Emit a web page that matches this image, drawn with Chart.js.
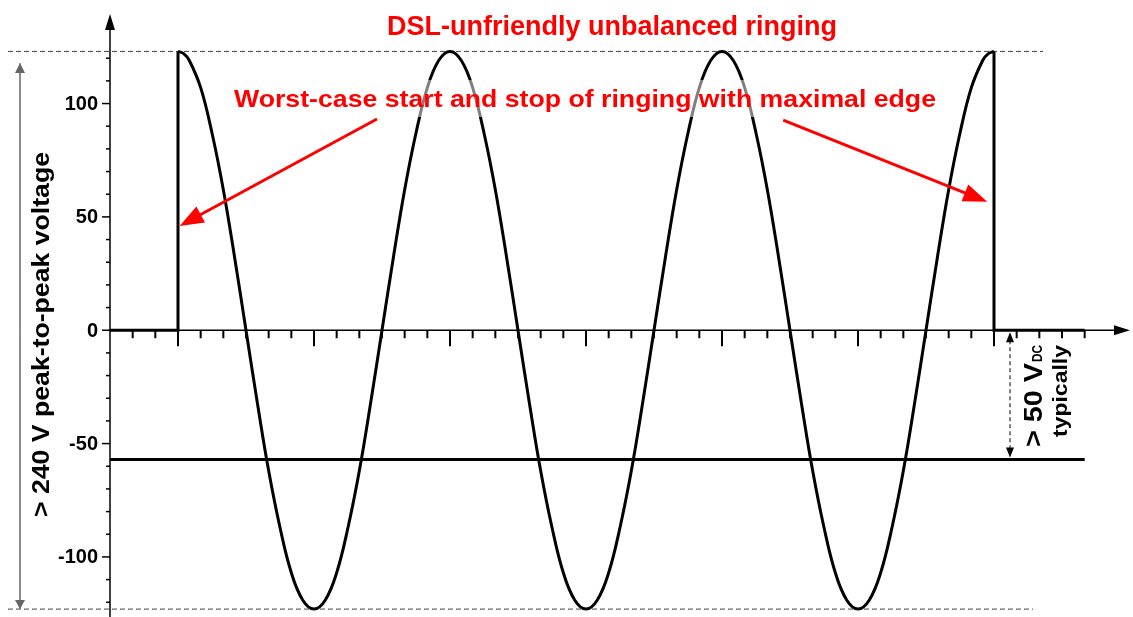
<!DOCTYPE html>
<html>
<head>
<meta charset="utf-8">
<script src="https://cdn.jsdelivr.net/npm/chart.js@4.4.1/dist/chart.umd.min.js"></script>
<style>
  body { margin: 0; background: #fff; }
  canvas { display: block; }
</style>
</head>
<body>
<canvas id="ringChart" width="1133" height="617"></canvas>
<script>
/*--------------------------------------------------------------------------------
----- DATA (x in tick units, y in volts)
--------------------------------------------------------------------------------*/

// line held at 0 V before the ringing starts
const leadX = [0, 3, 3];
const leadV = [0, 0, 123];

// the ringing itself, one point per half tick (a bit denser at both edges)
const ringX = [3, 3.25, 3.5, 4, 4.5, 5, 5.5, 6, 6.5, 7, 7.5, 8, 8.5, 9, 9.5, 10, 10.5, 11, 11.5,
               12, 12.5, 13, 13.5, 14, 14.5, 15, 15.5, 16, 16.5, 17, 17.5, 18, 18.5, 19, 19.5,
               20, 20.5, 21, 21.5, 22, 22.5, 23, 23.5, 24, 24.5, 25, 25.5, 26, 26.5, 27, 27.5,
               28, 28.5, 29, 29.5, 30, 30.5, 31, 31.5, 32, 32.5, 33, 33.5, 34, 34.5, 35, 35.5,
               36, 36.5, 37, 37.5, 38, 38.5, 38.75, 39];
const ringV = [123, 122, 119, 107, 87, 62, 32, 0, -32, -62, -87, -107, -119, -123, -119, -107, -87, -62, -32,
               0, 32, 62, 87, 107, 119, 123, 119, 107, 87, 62, 32, 0, -32, -62, -87,
               -107, -119, -123, -119, -107, -87, -62, -32, 0, 32, 62, 87, 107, 119, 123, 119,
               107, 87, 62, 32, 0, -32, -62, -87, -107, -119, -123, -119, -107, -87, -62, -32,
               0, 32, 62, 87, 107, 119, 122, 123];

// back to 0 V after the ringing stops
const tailX = [39, 39, 43];
const tailV = [123, 0, 0];

// DC level of the line
const dcX = [0, 43];
const dcV = [-57, -57];

// extremes of the ringing (dashed guides)
const peakV = 123;
const troughV = -123;

// axes
const yTickLabels = [100, 50, 0, -50, -100];
const yMinorStep = 10;
const xMajorTicks = [3, 9, 15, 21, 27, 33, 39];
const xLastTick = 43;

// texts
const titleText = 'DSL-unfriendly unbalanced ringing';
const noteText = 'Worst-case start and stop of ringing with maximal edge';
const yAxisText = '> 240 V peak-to-peak voltage';
const dcText = '> 50 V';
const dcSub = 'DC';
const dcNote = 'typically';

// red arrows of the note, in data units: [fromX, fromY, toX, toY]
const noteArrows = [[11.78, 93.2, 3.07, 46], [29.7, 92.7, 38.7, 56.7]];


/*--------------------------------------------------------------------------------
----- HELPERS
--------------------------------------------------------------------------------*/

function pts(xs, vs) {
  return xs.map((x, i) => ({ x: x, y: vs[i] }));
}

// text squeezed/stretched to a given width
function fitText(ctx, txt, px, py, rot, font, width, align) {
  ctx.save();
  ctx.translate(px, py);
  ctx.rotate(rot);
  ctx.font = font;
  const w = ctx.measureText(txt).width;
  ctx.scale(width / w, 1);
  ctx.textAlign = align;
  ctx.textBaseline = 'alphabetic';
  ctx.fillText(txt, 0, 0);
  ctx.restore();
}

function head(ctx, x1, y1, x2, y2, len, half) {
  const a = Math.atan2(y2 - y1, x2 - x1);
  ctx.beginPath();
  ctx.moveTo(x2, y2);
  ctx.lineTo(x2 - len * Math.cos(a) + half * Math.sin(a), y2 - len * Math.sin(a) - half * Math.cos(a));
  ctx.lineTo(x2 - len * Math.cos(a) - half * Math.sin(a), y2 - len * Math.sin(a) + half * Math.cos(a));
  ctx.closePath();
  ctx.fill();
}

function arrow(ctx, x1, y1, x2, y2, len, half) {
  const a = Math.atan2(y2 - y1, x2 - x1);
  ctx.beginPath();
  ctx.moveTo(x1, y1);
  ctx.lineTo(x2 - (len - 2) * Math.cos(a), y2 - (len - 2) * Math.sin(a));
  ctx.stroke();
  head(ctx, x1, y1, x2, y2, len, half);
}

function dashed(ctx, x1, x2, py) {
  ctx.save();
  ctx.strokeStyle = '#444';
  ctx.lineWidth = 1;
  ctx.setLineDash([5, 3]);
  ctx.beginPath();
  ctx.moveTo(x1, py);
  ctx.lineTo(x2, py);
  ctx.stroke();
  ctx.restore();
}


/*--------------------------------------------------------------------------------
----- AXES AND ANNOTATIONS
--------------------------------------------------------------------------------*/

const decor = {
  id: 'decor',
  beforeDatasetsDraw(chart) {
    const ctx = chart.ctx;
    const xs = chart.scales.x, ys = chart.scales.y, area = chart.chartArea;
    const x0 = xs.getPixelForValue(0);
    const y0 = ys.getPixelForValue(0);

    ctx.save();
    // dashed guides at the extremes
    dashed(ctx, 8, 1043, ys.getPixelForValue(peakV));
    dashed(ctx, 8, 1033, ys.getPixelForValue(troughV));

    ctx.strokeStyle = '#000';
    ctx.fillStyle = '#000';
    ctx.lineWidth = 1.5;

    // y axis with arrow
    arrow(ctx, x0, area.bottom, x0, area.top, 16, 5);
    // x axis with arrow
    arrow(ctx, x0, y0, area.right, y0, 16, 5);

    // y ticks
    for (let v = -120; v <= 120; v += yMinorStep) {
      const py = ys.getPixelForValue(v);
      const len = yTickLabels.includes(v) ? 8 : 4;
      ctx.beginPath();
      ctx.moveTo(x0 - len, py);
      ctx.lineTo(x0, py);
      ctx.stroke();
    }
    ctx.font = 'bold 20px "Liberation Sans", Arial, sans-serif';
    ctx.textAlign = 'right';
    ctx.textBaseline = 'middle';
    yTickLabels.forEach(v => ctx.fillText(String(v), x0 - 12, ys.getPixelForValue(v) + 1));

    // x ticks (below the axis only)
    ctx.lineWidth = 2;
    for (let t = 1; t <= xLastTick; t++) {
      const px = xs.getPixelForValue(t);
      const len = xMajorTicks.includes(t) ? 16 : 8;
      ctx.beginPath();
      ctx.moveTo(px, y0);
      ctx.lineTo(px, y0 + len);
      ctx.stroke();
    }

    // peak-to-peak double arrow on the left
    ctx.strokeStyle = '#666';
    ctx.fillStyle = '#666';
    ctx.lineWidth = 1;
    const pTop = 63, pBot = ys.getPixelForValue(troughV);
    arrow(ctx, 20, pBot, 20, pTop, 10, 5);
    arrow(ctx, 20, pTop, 20, pBot, 9, 5);

    ctx.fillStyle = '#000';
    fitText(ctx, yAxisText, 49, 517, -Math.PI / 2, 'bold 23px "Liberation Sans", Arial, sans-serif', 365, 'left');
    ctx.restore();
  },

  afterDatasetsDraw(chart) {
    const ctx = chart.ctx;
    const xs = chart.scales.x, ys = chart.scales.y;
    const y0 = ys.getPixelForValue(0);
    const yDc = ys.getPixelForValue(dcV[0]);

    ctx.save();
    // veil behind the note, the curve shows grey through it
    ctx.fillStyle = 'rgba(255,255,255,0.5)';
    ctx.fillRect(230, 80, 710, 37);

    ctx.fillStyle = '#ff0000';
    fitText(ctx, titleText, 612, 35, 0, 'bold 27px "Liberation Sans", Arial, sans-serif', 450, 'center');
    fitText(ctx, noteText, 585, 107, 0, 'bold 24px "Liberation Sans", Arial, sans-serif', 702, 'center');

    // red arrows to the edges
    ctx.strokeStyle = '#ff0000';
    ctx.lineWidth = 3;
    noteArrows.forEach(a => {
      arrow(ctx, xs.getPixelForValue(a[0]), ys.getPixelForValue(a[1]),
                 xs.getPixelForValue(a[2]), ys.getPixelForValue(a[3]), 24, 9);
    });

    // DC offset double arrow
    ctx.strokeStyle = '#000';
    ctx.fillStyle = '#000';
    ctx.lineWidth = 1;
    ctx.setLineDash([4, 3]);
    const px = 1010;
    ctx.beginPath();
    ctx.moveTo(px, y0 + 10);
    ctx.lineTo(px, yDc - 10);
    ctx.stroke();
    ctx.setLineDash([]);
    head(ctx, px, yDc, px, y0 + 2, 10, 4);
    head(ctx, px, y0, px, yDc - 2, 10, 4);

    // DC labels
    fitText(ctx, dcText, 1042, 447, -Math.PI / 2, 'bold 25px "Liberation Sans", Arial, sans-serif', 84, 'left');
    fitText(ctx, dcSub, 1042, 362, -Math.PI / 2, 'bold 14px "Liberation Sans", Arial, sans-serif', 17, 'left');
    fitText(ctx, dcNote, 1067, 391, -Math.PI / 2, 'bold 21px "Liberation Sans", Arial, sans-serif', 92, 'center');
    ctx.restore();
  }
};


/*--------------------------------------------------------------------------------
----- CHART
--------------------------------------------------------------------------------*/

const ctx = document.getElementById('ringChart');

const lineStyle = {
  borderColor: '#000',
  borderWidth: 3,
  pointRadius: 0,
  fill: false,
  borderJoinStyle: 'miter'
};

new Chart(ctx, {
  type: 'line',
  data: {
    datasets: [
      Object.assign({ label: 'lead', data: pts(leadX, leadV), tension: 0 }, lineStyle),
      Object.assign({ label: 'ringing', data: pts(ringX, ringV), tension: 0.4 }, lineStyle),
      Object.assign({ label: 'tail', data: pts(tailX, tailV), tension: 0 }, lineStyle),
      Object.assign({ label: 'dc', data: pts(dcX, dcV), tension: 0 }, lineStyle)
    ]
  },
  options: {
    responsive: false,
    animation: false,
    devicePixelRatio: 1,
    layout: { padding: { left: 110, right: 3, top: 14, bottom: 0 } },
    plugins: {
      legend: { display: false },
      tooltip: { enabled: false }
    },
    scales: {
      x: { type: 'linear', min: 0, max: 45, display: false },
      y: { type: 'linear', min: -126.5, max: 139.5, display: false }
    }
  },
  plugins: [decor]
});
</script>
</body>
</html>
